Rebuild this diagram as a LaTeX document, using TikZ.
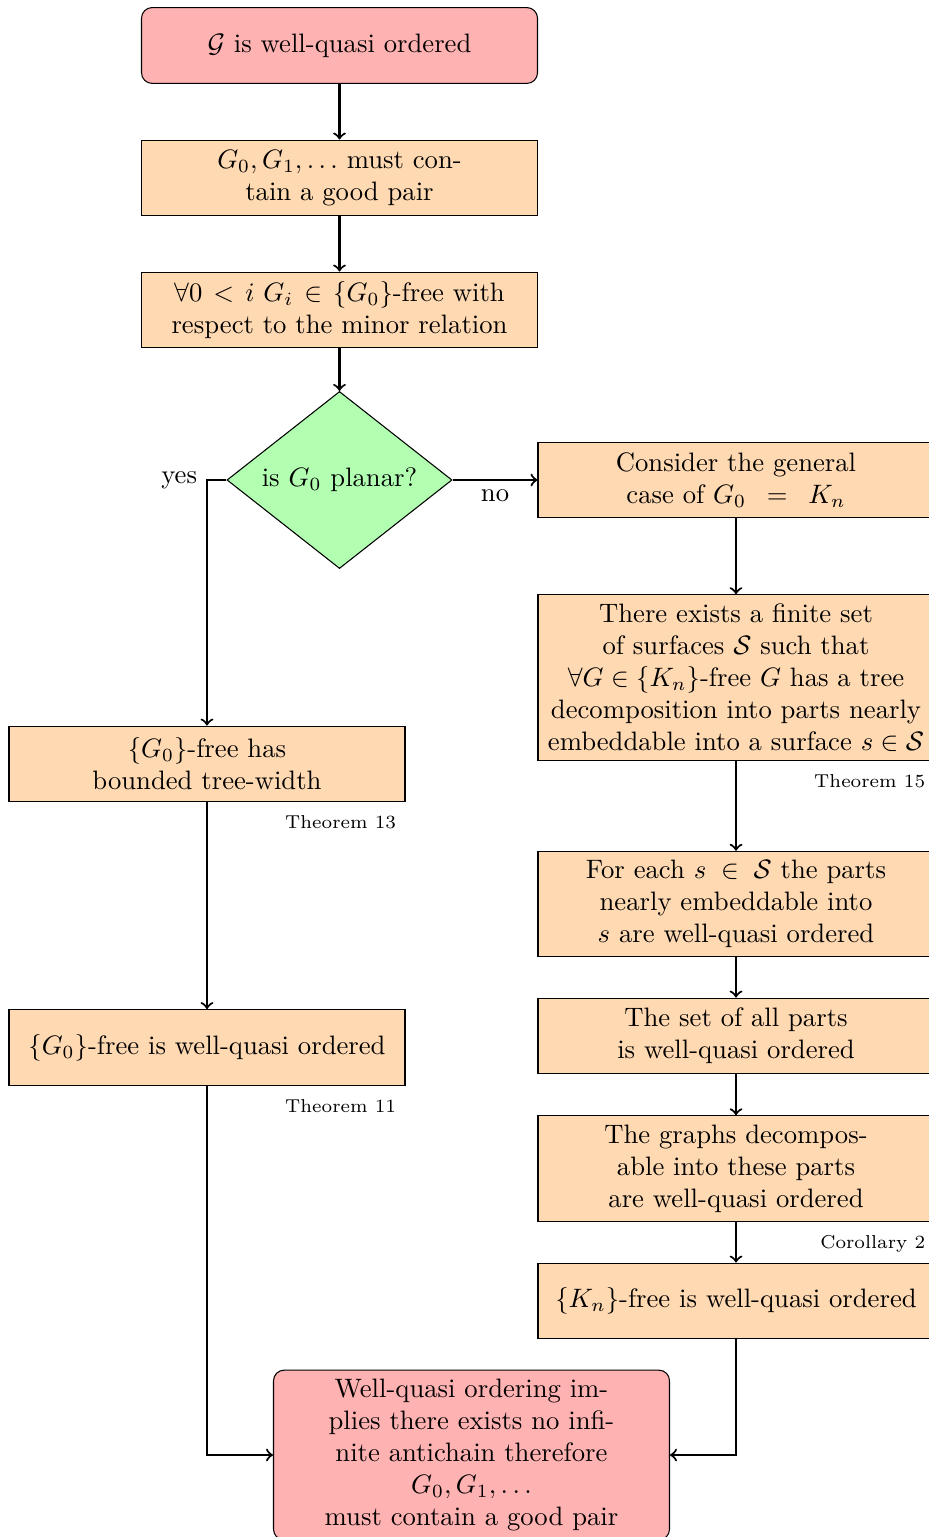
\documentclass[tikz,border=0pt]{standalone}
\usetikzlibrary{shapes.geometric}
\begin{document}
\begin{tikzpicture}[x=0.375pt,y=-0.375pt,
  proc/.style={draw, fill=orange!30, minimum width=148.5pt, minimum height=1cm, align=center},
  term/.style={draw, fill=red!30, rounded corners, minimum width=148.5pt, minimum height=1cm, align=center},
  decide/.style={draw, fill=green!30, diamond, aspect=1.27, inner sep=0pt, minimum width=84.4pt, minimum height=66.4pt},
  arr/.style={->, thick},
  lbl/.style={font=\scriptsize, anchor=north east}]
\useasboundingbox (0,0) rectangle (928,1537);
% left / centre column
\node[term] (start) at (339.5,45.5) {$\mathcal{G}$ is well-quasi ordered};
\node[proc] (b2) at (339.5,178) {$G_0, G_1, \dots$ must con-\\tain a good pair};
\node[proc] (b3) at (339.5,310) {{\thickmuskip=7.5mu $\forall 0 < i\ G_i \in \{G_0\}$}-free with\\respect to the minor relation};
\node[decide] (dia) at (339.5,480) {is $G_0$ planar?};
\node[proc] (b4) at (207,764) {$\{G_0\}$-free has\\bounded tree-width};
\node[proc] (b4b) at (207,1047.5) {$\{G_0\}$-free is well-quasi ordered};
% right column
\node[proc] (b5) at (736,480) {Consider the general\\{\thickmuskip=14mu case of $G_0 = K_n$}};
\node[proc] (b6) at (736,677.5) {There exists a finite set\\of surfaces $\mathcal{S}$ such that\\$\forall G \in \{K_n\}$-free $G$ has a tree\\decomposition into parts nearly\\embeddable into a surface $s \in \mathcal{S}$};
\node[proc] (b7) at (736,904) {{\thickmuskip=10mu For each $s \in \mathcal{S}$} the parts\\nearly embeddable into\\$s$ are well-quasi ordered};
\node[proc] (b8) at (736,1036) {The set of all parts\\is well-quasi ordered};
\node[proc] (b9) at (736,1168.5) {The graphs decompos-\\able into these parts\\are well-quasi ordered};
\node[proc] (b10) at (736,1301) {$\{K_n\}$-free is well-quasi ordered};
% final
\node[term] (end) at (471.5,1455) {Well-quasi ordering im-\\plies there exists no infi-\\nite antichain therefore\\$G_0, G_1, \dots$\\must contain a good pair};
% references
\node[lbl] (t13) at ([yshift=-1.5pt]b4.south east) {Theorem 13};
\node[lbl] (t11) at ([yshift=-1.5pt]b4b.south east) {Theorem 11};
\node[lbl] (t15) at ([yshift=-1.5pt]b6.south east) {Theorem 15};
\node[lbl] (c2) at ([yshift=-1.5pt]b9.south east) {Corollary 2};
% connectors
\draw[arr] (start) -- (b2);
\draw[arr] (b2) -- (b3);
\draw[arr] (b3) -- (dia);
\draw[arr] (dia.west) -| node[pos=0.5, left] (yes) {yes} (b4.north);
\draw[arr] (dia.east) -- node[below] (no) {no} (dia.east -| b5.west);
\draw[arr] (b4) -- (b4b);
\draw[arr] (b4b.south) |- (end.west);
\draw[arr] (b5) -- (b6);
\draw[arr] (b6) -- (b7);
\draw[arr] (b7) -- (b8);
\draw[arr] (b8) -- (b9);
\draw[arr] (b9) -- (b10);
\draw[arr] (b10.south) |- (end.east);
\end{tikzpicture}
\end{document}
